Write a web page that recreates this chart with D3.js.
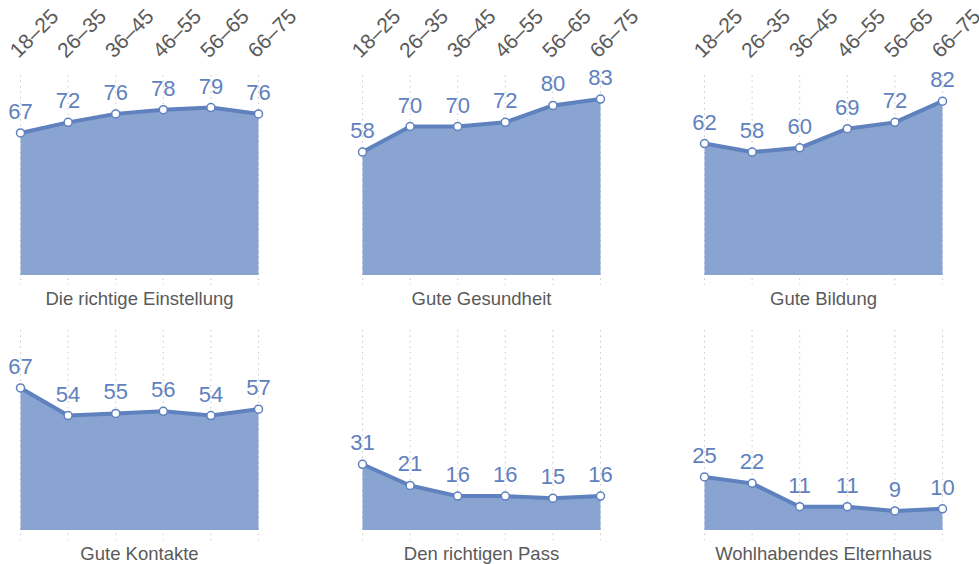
<!DOCTYPE html>
<html>
<head>
<meta charset="utf-8">
<script src="https://cdn.jsdelivr.net/npm/d3@7"></script>
<style>
  body { margin: 0; background: #fff; }
  svg { font-family: "Helvetica Neue", Helvetica, Arial, "Liberation Sans", sans-serif; }
</style>
</head>
<body>
<div id="chart"></div>
<script>
const ageGroups = ["18–25", "26–35", "36–45", "46–55", "56–65", "66–75"];
const titles = [
  "Die richtige Einstellung", "Gute Gesundheit", "Gute Bildung",
  "Gute Kontakte", "Den richtigen Pass", "Wohlhabendes Elternhaus"
];
const einstellung = [67, 72, 76, 78, 79, 76];
const gesundheit = [58, 70, 70, 72, 80, 83];
const bildung = [62, 58, 60, 69, 72, 82];
const kontakte = [67, 54, 55, 56, 54, 57];
const pass = [31, 21, 16, 16, 15, 16];
const elternhaus = [25, 22, 11, 11, 9, 10];
const seriesList = [einstellung, gesundheit, bildung, kontakte, pass, elternhaus];

const width = 979, height = 564;
const lineColor = "#5f81be";
const areaColor = "#8aa4d2";
const textGray = "#5a5a5a";

const svg = d3.select("#chart").append("svg")
  .attr("width", width)
  .attr("height", height);

const x = d3.scalePoint().domain(ageGroups).range([0, 238]);
const y = d3.scaleLinear().domain([0, 100]).range([212, 0]);

seriesList.forEach((values, i) => {
  const col = i % 3, row = Math.floor(i / 3);
  const g = svg.append("g")
    .attr("transform", `translate(${20.5 + col * 342}, ${row * 255 + 63})`);

  // dotted vertical grid
  g.selectAll("line.grid")
    .data(ageGroups)
    .join("line")
    .attr("x1", d => x(d)).attr("x2", d => x(d))
    .attr("y1", 12).attr("y2", 222)
    .attr("stroke", "#c8c8c8")
    .attr("stroke-width", 1)
    .attr("stroke-dasharray", "1.5,4");

  const data = ageGroups.map((a, j) => ({ age: a, v: values[j] }));

  g.append("path")
    .datum(data)
    .attr("fill", areaColor)
    .attr("d", d3.area().x(d => x(d.age)).y0(y(0)).y1(d => y(d.v)));

  g.append("path")
    .datum(data)
    .attr("fill", "none")
    .attr("stroke", lineColor)
    .attr("stroke-width", 4)
    .attr("stroke-linejoin", "round")
    .attr("d", d3.line().x(d => x(d.age)).y(d => y(d.v)));

  g.selectAll("circle")
    .data(data)
    .join("circle")
    .attr("cx", d => x(d.age))
    .attr("cy", d => y(d.v))
    .attr("r", 4)
    .attr("fill", "#fff")
    .attr("stroke", lineColor)
    .attr("stroke-width", 1.5);

  g.selectAll("text.val")
    .data(data)
    .join("text")
    .attr("class", "val")
    .attr("x", d => x(d.age))
    .attr("y", d => y(d.v) - 14)
    .attr("text-anchor", "middle")
    .attr("fill", lineColor)
    .attr("font-size", 22)
    .text(d => d.v);

  if (row === 0) {
    g.selectAll("text.age")
      .data(ageGroups)
      .join("text")
      .attr("class", "age")
      .attr("transform", d => `translate(${x(d) - 2}, -4) rotate(-45)`)
      .attr("fill", textGray)
      .attr("font-size", 21)
      .text(d => d);
  }

  g.append("text")
    .attr("x", 119)
    .attr("y", 242)
    .attr("text-anchor", "middle")
    .attr("fill", textGray)
    .attr("font-size", 18.5)
    .text(titles[i]);
});
</script>
</body>
</html>
